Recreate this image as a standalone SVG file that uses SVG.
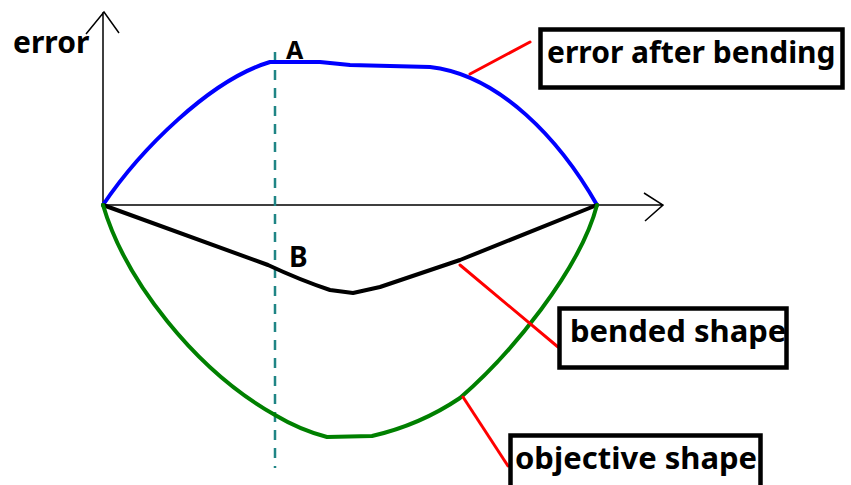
<svg xmlns="http://www.w3.org/2000/svg" width="851" height="485" viewBox="0 0 851 485">
<style>
.lbl{font-family:"Noto Sans","Liberation Sans",sans-serif;font-weight:bold;fill:#000}
.box{fill:#fff;stroke:#000;stroke-width:4.5}
.axis{fill:none;stroke:#000;stroke-width:1.5}
.curve{fill:none;stroke-width:4;stroke-linejoin:round;stroke-linecap:round}
.lead{fill:none;stroke:#ff0000;stroke-width:3;stroke-linecap:round}
</style>
<rect width="851" height="485" fill="#fff"/>
<g id="axes">
<path class="axis" d="M103,205 L103,12 M86,34 L104,12 L119,33"/>
<path class="axis" d="M103,205 L663,205 M644,193 L663,205 L645,221"/>
<text class="lbl" x="13" y="53" font-size="30">error</text>
</g>
<g id="marker-line">
<line x1="275" y1="52" x2="275" y2="468" stroke="#1f8585" stroke-width="2.5" stroke-dasharray="10,8"/>
<text class="lbl" x="286" y="59" font-size="25">A</text>
<text class="lbl" x="289" y="267" font-size="28">B</text>
</g>
<g id="curves">
<path id="error-curve" class="curve" stroke="#0000ff" d="M103,205 C140,150 210,80 270,62 L320,62 L350,65 L430,67 C500,75 560,140 597,205"/>
<path id="bended-curve" class="curve" stroke="#000" d="M103,205 L268,265 Q300,280 330,290 L353,293 L380,287 L460,260 L597,205"/>
<path id="objective-curve" class="curve" stroke="#008000" d="M103,205 C125,280 195,370 275,415 Q300,430 327,437 L372,436 Q420,425 460,398 C510,355 580,270 597,205"/>
</g>
<g id="connectors">
<line class="lead" x1="470" y1="74" x2="530" y2="42"/>
<line class="lead" x1="460" y1="265" x2="558" y2="347"/>
<line class="lead" x1="463" y1="397" x2="508" y2="466"/>
</g>
<g id="node-error-after-bending">
<rect class="box" x="540.5" y="29.5" width="302" height="58"/>
<text class="lbl" x="547" y="63" font-size="30">error after bending</text>
</g>
<g id="node-bended-shape">
<rect class="box" x="559.5" y="308.5" width="227" height="59"/>
<text class="lbl" x="570" y="342" font-size="31">bended shape</text>
</g>
<g id="node-objective-shape">
<rect class="box" x="510.5" y="435.5" width="250" height="70"/>
<text class="lbl" x="515" y="469" font-size="31">objective shape</text>
</g>
</svg>
